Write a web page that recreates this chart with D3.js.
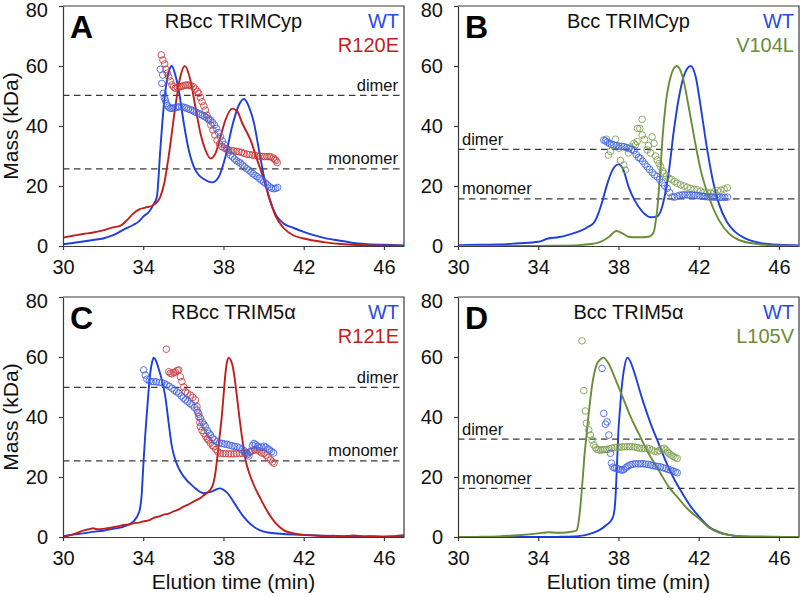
<!DOCTYPE html>
<html><head><meta charset="utf-8">
<script src="https://cdn.jsdelivr.net/npm/d3@7"></script>
<style>
html,body{margin:0;padding:0;background:#fff;}
text{font-family:"Liberation Sans",Arial,Helvetica,sans-serif;}
</style></head>
<body><svg id="chart" width="800" height="597"></svg>
<script>
// ---------- tick labels ----------
const xTicks = [30, 34, 38, 42, 46];
const yTicks = [0, 20, 40, 60, 80];
const xDomain = [30, 47];
const yDomain = [0, 80];

// ---------- panel titles / series names ----------
const panelLetters = ["A", "B", "C", "D"];
const panelTitles = ["RBcc TRIMCyp", "Bcc TRIMCyp", "RBcc TRIM5\u03b1", "Bcc TRIM5\u03b1"];
const seriesNames = [["WT", "R120E"], ["WT", "V104L"], ["WT", "R121E"], ["WT", "L105V"]];
const dimerMass = [50.2, 32.2, 49.9, 32.6];
const monomerMass = [25.7, 15.7, 25.4, 16.2];

// ---------- Panel A: RBcc TRIMCyp ----------
const aLineWT = [[30,0.6],[30.5,1.0],[31,1.5],[31.5,2.0],[32,2.5],[32.5,3.6],[33,5.4],[33.5,7.0],[33.8,8.3],[34,9.8],[34.3,11.5],[34.5,13.7],[34.68,16.4],[34.85,32],[35.02,46.4],[35.18,55.3],[35.3,58.7],[35.43,60],[35.6,57],[35.77,52],[36.02,41],[36.27,32],[36.6,25.3],[37.1,22],[37.43,21.2],[37.77,23.1],[38.1,29.8],[38.43,39.8],[38.77,47],[39.02,49],[39.27,46.4],[39.52,41],[39.77,32],[40.02,23.1],[40.27,16.2],[40.6,10.5],[41,7.5],[41.5,6],[42,4.7],[42.5,3.6],[43,2.7],[43.5,2.1],[44,1.6],[44.5,1.0],[45,0.7],[46,0.4],[47,0.2]];
const aLineMut = [[30,2.8],[30.5,3.4],[31,4.0],[31.5,4.5],[32,5.2],[32.5,6.2],[32.85,6.7],[33.2,8.7],[33.5,10.8],[33.8,12.2],[34.1,12.8],[34.5,13.6],[34.85,16.4],[35.05,21],[35.27,30],[35.6,46.4],[35.85,56.4],[36.07,60],[36.35,55.3],[36.6,46.4],[36.85,37.6],[37.1,32],[37.35,29.2],[37.6,30.9],[37.85,36.4],[38.1,42],[38.43,45.8],[38.68,45],[38.93,41],[39.35,35.3],[39.68,28.7],[40.02,22],[40.27,16.4],[40.6,10],[41,6],[41.5,3.5],[42,2.5],[43,1.3],[44,0.6],[45,0.3],[47,0.1]];
const aDotsWT = [[34.85,58.9],[34.93,54.2],[34.97,57],[35.0,50.9],[35.05,49.5],[35.1,48.7],[35.15,47.5],[35.2,46.8],[35.27,46.3],[35.35,45.9],[35.43,45.9],[35.5,46.0],[35.6,46.1],[35.7,46.3],[35.8,46.4],[35.93,46.4],[36.05,46.2],[36.15,46.0],[36.25,45.7],[36.35,45.4],[36.45,45.2],[36.55,44.8],[36.65,44.5],[36.75,44.2],[36.85,43.9],[36.95,43.6],[37.05,43.2],[37.15,42.8],[37.25,42.4],[37.35,42],[37.45,41.2],[37.55,40.3],[37.65,39.2],[37.75,37.8],[37.85,36.4],[37.95,35],[38.05,33.8],[38.15,32.5],[38.25,31.3],[38.35,30.3],[38.45,29.7],[38.55,29],[38.65,28.4],[38.75,28],[38.85,27.6],[38.95,27],[39.05,26.4],[39.15,25.8],[39.27,25.3],[39.37,24.7],[39.47,24.1],[39.57,23.6],[39.68,23.1],[39.78,22.6],[39.88,22],[40.0,21.4],[40.1,20.9],[40.2,20.3],[40.3,19.7],[40.4,19.3],[40.5,19.1],[40.6,19.2],[40.7,19.5]];
const aDotsMut = [[34.9,63.7],[34.98,62],[35.07,60.7],[35.13,58.9],[35.2,57.6],[35.27,56.4],[35.35,55],[35.43,53.7],[35.52,53],[35.6,52.6],[35.7,52.8],[35.8,53],[35.9,53.2],[36.0,53.4],[36.1,53.6],[36.18,53.7],[36.28,53.6],[36.38,53.4],[36.5,53.1],[36.6,52.3],[36.7,51.5],[36.77,50.9],[36.85,49.5],[36.93,48.1],[37.02,46.7],[37.1,45.3],[37.18,43.6],[37.27,42],[37.37,40.3],[37.47,38.7],[37.57,37],[37.68,35.3],[37.8,34],[37.93,33.1],[38.05,32.6],[38.17,32.3],[38.27,32],[38.4,31.8],[38.52,31.7],[38.65,31.5],[38.77,31.4],[38.9,31.2],[39.03,30.9],[39.17,30.6],[39.3,30.5],[39.43,30.3],[39.56,30.2],[39.7,30.0],[39.82,29.9],[39.93,29.8],[40.05,29.8],[40.17,29.8],[40.28,29.8],[40.38,29.7],[40.48,29.3],[40.56,28.9],[40.62,28.5],[40.68,27.8]];

// ---------- Panel B: Bcc TRIMCyp ----------
const bLineWT = [[30,0.3],[31,0.4],[32,0.5],[33,0.9],[34,1.4],[34.5,2.5],[35,2.9],[35.5,3.7],[36,4.8],[36.5,6.4],[36.8,8],[37,10.9],[37.2,15],[37.4,19.8],[37.7,25.3],[38.0,27.2],[38.25,25.3],[38.5,19.8],[38.8,15.3],[39.2,11.4],[39.6,9.6],[39.9,9.8],[40.1,11.5],[40.3,16.5],[40.5,24.2],[40.75,38],[41.0,49],[41.25,56.5],[41.6,60],[41.85,56.4],[42.1,46.4],[42.4,33.1],[42.7,22],[43,14.2],[43.4,8.1],[43.8,4.8],[44.3,2.6],[45,1.1],[46,0.4],[47,0.2]];
const bLineMut = [[30,0],[33,0],[34,0.05],[35,0.1],[36,0.3],[36.5,0.6],[37,1.1],[37.5,2.9],[37.9,5],[38.2,4.2],[38.5,3.1],[39,2.9],[39.5,3.1],[39.75,4.5],[39.85,8],[39.93,12],[40.1,26.4],[40.2,36.4],[40.35,47],[40.6,56.4],[40.9,60],[41.2,56.4],[41.5,46.4],[41.8,35.3],[42.1,25.3],[42.5,16.4],[43,8.7],[43.5,4.2],[44,2],[45,0.6],[46,0.1],[47,0]];
const bDotsWT = [[37.27,35.3],[37.35,35],[37.45,34.6],[37.55,34.2],[37.65,33.9],[37.77,33.7],[37.9,33.5],[38.02,33.3],[38.15,33.2],[38.27,33.1],[38.4,32.8],[38.52,32.5],[38.65,32.2],[38.77,31.8],[38.88,30.5],[39.0,29.5],[39.1,29.2],[39.2,28.3],[39.32,27.3],[39.43,26.4],[39.55,25.5],[39.68,24.5],[39.8,23.7],[39.93,23.1],[40.05,22.2],[40.18,21.1],[40.3,20.1],[40.43,19.2],[40.55,17.8],[40.68,16.4],[40.8,16.3],[40.93,16.6],[41.05,16.9],[41.18,17.0],[41.3,17.1],[41.43,17.0],[41.55,17.0],[41.67,17.0],[41.8,16.9],[41.93,16.8],[42.05,16.7],[42.18,16.6],[42.3,16.5],[42.43,16.4],[42.55,16.4],[42.68,16.3],[42.8,16.3],[42.93,16.2],[43.05,16.2],[43.18,16.2],[43.3,16.2],[43.43,16.3]];
const bDotsMut = [[37.4,35.6],[37.5,30.3],[37.6,31.5],[37.85,35.6],[38.02,32.6],[38.1,28.5],[38.27,27],[38.35,25.3],[38.5,31],[38.6,33],[38.77,34.2],[38.85,33.7],[38.93,34.8],[38.95,39.2],[39.07,39.2],[39.18,42.2],[39.18,37],[39.3,35.5],[39.43,32],[39.5,33.5],[39.6,31],[39.68,36.4],[39.77,34.2],[39.85,30],[39.93,28.7],[40.02,27.5],[40.1,26.4],[40.2,25],[40.27,24.2],[40.4,23.3],[40.52,22.6],[40.65,22.2],[40.8,21.5],[40.93,20.9],[41.1,20.4],[41.27,20],[41.43,19.6],[41.6,19.2],[41.77,18.9],[41.93,18.7],[42.1,18.3],[42.27,17.9],[42.43,17.8],[42.6,17.6],[42.77,18.0],[42.93,18.4],[43.1,18.6],[43.27,19.0],[43.43,19.4]];

// ---------- Panel C: RBcc TRIM5a ----------
const cLineWT = [[30,0.3],[30.5,0.8],[31,1.2],[31.5,1.7],[32,2.1],[32.5,2.7],[33,3.4],[33.5,5.1],[33.8,8.4],[33.92,14],[34.02,25.7],[34.1,34],[34.18,41.2],[34.27,49],[34.35,54.6],[34.45,58.5],[34.52,59.8],[34.62,59],[34.75,56.5],[34.93,52.3],[35.1,46.8],[35.27,37.9],[35.43,30.1],[35.6,25.7],[35.8,22.5],[36,20.3],[36.5,16.8],[37,14.6],[37.4,15.1],[37.8,16.2],[38.2,14.6],[38.6,10.7],[39,6.8],[39.4,4],[39.8,2.3],[40.3,1.4],[41,1],[42,0.7],[44,0.3],[47,0.1]];
const cLineMut = [[30,0],[30.2,0.3],[30.5,0.9],[30.8,1.6],[31,2.1],[31.3,2.6],[31.5,2.9],[31.7,2.6],[32,2.7],[32.3,3.0],[32.5,3.3],[32.8,3.6],[33,4.0],[33.3,4.2],[33.5,4.6],[33.8,4.8],[34,5.2],[34.3,5.6],[34.5,6.3],[34.8,6.9],[35,7.4],[35.3,7.9],[35.5,8.5],[35.8,9.3],[36,10.1],[36.3,11],[36.5,11.8],[36.8,12.8],[37,13.8],[37.2,14.8],[37.35,15.8],[37.5,18],[37.6,21.5],[37.68,25.7],[37.8,33],[37.93,41.2],[38.02,48.5],[38.1,54.6],[38.18,58.5],[38.27,59.8],[38.37,58.8],[38.45,57.2],[38.52,54.6],[38.65,48],[38.77,41.2],[38.93,33],[39.1,25.7],[39.3,21],[39.5,17.5],[39.8,13.4],[40.2,8.4],[40.6,4.6],[41,2.3],[41.5,1.2],[42,0.7],[42.5,0.5],[43,0.3],[43.5,0.4],[44,0.2],[44.5,0.5],[45,0.2],[45.5,0.3],[46,0.1],[46.5,0.3],[47,0.6]];
const cDotsWT = [[34.02,55.7],[34.1,54],[34.18,52.6],[34.3,52],[34.4,51.8],[34.52,51.8],[34.65,51.7],[34.8,51.5],[34.93,51.4],[35.05,51.1],[35.18,50.7],[35.3,50.2],[35.43,49.6],[35.55,48.9],[35.67,48.4],[35.77,47.9],[35.9,47],[36.0,46.3],[36.1,45.7],[36.22,45.1],[36.33,44.5],[36.43,44],[36.55,43.2],[36.68,42.3],[36.77,41],[36.85,39.6],[36.95,38.3],[37.02,37.5],[37.1,36.8],[37.2,35.4],[37.28,34.6],[37.35,34],[37.45,33],[37.55,32.4],[37.68,31.8],[37.8,31.4],[37.93,31.2],[38.05,31],[38.18,30.9],[38.3,30.6],[38.43,30.4],[38.55,30.2],[38.68,30.1],[38.8,29.7],[38.92,29.2],[39.02,28.8],[39.12,28],[39.2,27.5],[39.27,27],[39.35,28.5],[39.45,30.5],[39.52,31.2],[39.6,30.8],[39.7,30.2],[39.8,29.7],[39.9,30],[40.02,30.3],[40.12,29.9],[40.22,29.3],[40.3,29],[40.4,28.5],[40.5,28]];
const cDotsMut = [[35.15,62.6],[35.27,55.1],[35.35,54.6],[35.43,54.4],[35.52,54.8],[35.6,55],[35.7,55.5],[35.77,55.7],[35.85,53.4],[35.93,51.8],[36.02,50],[36.1,48.4],[36.2,47.9],[36.35,47.3],[36.47,46.5],[36.6,45.7],[36.68,43.5],[36.72,41.5],[36.77,40.1],[36.82,38.2],[36.85,36.8],[36.93,35.5],[37.02,34.6],[37.12,33.5],[37.2,32.6],[37.27,32.3],[37.35,31.3],[37.45,30.5],[37.52,30.1],[37.62,29.2],[37.72,28.4],[37.85,27.9],[37.98,27.8],[38.1,27.8],[38.25,27.7],[38.38,27.7],[38.52,27.7],[38.65,27.8],[38.8,27.8],[38.93,27.9],[39.05,28],[39.18,27.9],[39.3,28.3],[39.43,28.7],[39.55,29],[39.68,29],[39.8,28.6],[39.9,28],[40.02,27.9],[40.12,27.3],[40.22,26.5],[40.35,25.7],[40.45,25],[40.52,24.6]];

// ---------- Panel D: Bcc TRIM5a ----------
const dLineWT = [[30,0],[34,0],[35,0.05],[35.5,0.1],[36,0.3],[36.5,0.9],[37,2.1],[37.4,4],[37.7,6.2],[37.8,9],[37.85,13],[37.9,20.1],[37.95,28],[38,35.7],[38.08,43],[38.15,49],[38.3,56.8],[38.45,59.8],[38.6,58.4],[38.8,54.6],[39.2,45.7],[39.6,37.9],[40,31.2],[40.4,24.6],[40.8,19],[41.2,14.4],[41.6,10.2],[42,6.9],[42.5,3.4],[43,1.7],[43.5,0.7],[44,0.3],[45,0.1],[47,0]];
const dLineMut = [[30,0],[31,0.05],[32,0.2],[33,0.6],[34,1.2],[34.5,1.6],[35,1.4],[35.5,1.6],[35.9,2.1],[36.0,4.5],[36.1,10.1],[36.2,18],[36.3,26.8],[36.4,33.5],[36.5,40.1],[36.7,51.2],[36.9,57.3],[37.1,59.2],[37.25,59.8],[37.5,57.9],[37.8,53.4],[38.2,46.8],[38.6,40.1],[39,34.6],[39.5,27.9],[40,22.3],[40.5,16.8],[41,12.8],[41.5,9],[42,6.2],[42.5,3.2],[43,1.5],[43.5,0.7],[44,0.3],[45,0.1],[47,0]];
const dDotsWT = [[37.18,56.2],[37.27,41.2],[37.35,37.6],[37.43,38.4],[37.52,34],[37.6,27.9],[37.65,24.6],[37.72,23.3],[37.8,23],[37.9,22.9],[38.0,22.7],[38.1,22.4],[38.18,22.3],[38.27,22.5],[38.35,23],[38.43,23.4],[38.52,23.8],[38.62,24.1],[38.72,24.3],[38.85,24.4],[38.98,24.4],[39.1,24.4],[39.22,24.4],[39.35,24.3],[39.48,24.2],[39.6,24],[39.72,23.8],[39.85,23.6],[39.97,23.5],[40.1,23.4],[40.22,23.1],[40.35,22.8],[40.48,22.5],[40.6,22.3],[40.72,22],[40.83,21.7],[40.93,21.4]];
const dDotsMut = [[36.18,65.4],[36.27,48.8],[36.35,42],[36.4,37.9],[36.52,35.7],[36.6,34],[36.68,32.3],[36.77,30.7],[36.85,29.8],[36.93,29.2],[37.02,29],[37.12,29],[37.22,29.1],[37.32,29.2],[37.43,29.2],[37.55,29.4],[37.67,29.6],[37.8,29.8],[37.93,29.9],[38.05,29.9],[38.17,30],[38.3,30.1],[38.43,30.1],[38.55,30.1],[38.67,30.1],[38.8,30],[38.93,29.8],[39.05,29.6],[39.17,29.5],[39.3,29.5],[39.43,29.6],[39.55,29.4],[39.67,29],[39.8,28.6],[39.93,28.4],[40.03,28.8],[40.15,29.4],[40.27,29.6],[40.37,29],[40.45,28.3],[40.52,27.9],[40.62,27.3],[40.72,26.9],[40.82,26.5],[40.93,26.2]];

// ---------- styling ----------
const COL = {
  blue: "#1f3fd8", blueDot: "#3e60e2",
  red: "#c01f1c", redDot: "#c83a38",
  green: "#6b8c38", greenDot: "#7d9c4c",
  axis: "#3a3a3a"
};
const panels = [
  {left: 63, top: 6, lines: [aLineWT, aLineMut], dots: [aDotsWT, aDotsMut], mut: "red", dimerLeft: false, yTitle: true, xTitle: false},
  {left: 458, top: 6, lines: [bLineWT, bLineMut], dots: [bDotsWT, bDotsMut], mut: "green", dimerLeft: true, yTitle: false, xTitle: false},
  {left: 63, top: 297, lines: [cLineWT, cLineMut], dots: [cDotsWT, cDotsMut], mut: "red", dimerLeft: false, yTitle: true, xTitle: true},
  {left: 458, top: 297, lines: [dLineWT, dLineMut], dots: [dDotsWT, dDotsMut], mut: "green", dimerLeft: true, yTitle: false, xTitle: true}
];
const W = 341, H = 240;

const svg = d3.select("#chart");
svg.append("rect").attr("width", 800).attr("height", 597).attr("fill", "#fff");

panels.forEach((p, i) => {
  const g = svg.append("g").attr("transform", `translate(${p.left},${p.top})`);
  const x = d3.scaleLinear().domain(xDomain).range([0, W]);
  const y = d3.scaleLinear().domain(yDomain).range([H, 0]);
  const mutLine = p.mut === "red" ? COL.red : COL.green;
  const mutDot = p.mut === "red" ? COL.redDot : COL.greenDot;

  // frame (top + right)
  g.append("path").attr("d", `M0,0H${W}V${H}`).attr("fill", "none")
    .attr("stroke", COL.axis).attr("stroke-width", 1.2);

  // reference lines
  [dimerMass[i], monomerMass[i]].forEach((m, k) => {
    g.append("line").attr("x1", 0).attr("x2", W).attr("y1", y(m)).attr("y2", y(m))
      .attr("stroke", "#3a3a3a").attr("stroke-width", 1.3).attr("stroke-dasharray", "6.5,4.5");
    const lbl = k === 0 ? "dimer" : "monomer";
    g.append("text").text(lbl)
      .attr("x", p.dimerLeft ? 4 : W - 6)
      .attr("y", y(m) - 4.5)
      .attr("text-anchor", p.dimerLeft ? "start" : "end")
      .attr("font-size", 16.5).attr("fill", "#111");
  });

  const line = d3.line().x(d => x(d[0])).y(d => y(d[1])).curve(d3.curveMonotoneX);
  // traces
  g.append("path").datum(p.lines[0]).attr("d", line).attr("fill", "none")
    .attr("stroke", COL.blue).attr("stroke-width", 1.9);
  g.append("path").datum(p.lines[1]).attr("d", line).attr("fill", "none")
    .attr("stroke", mutLine).attr("stroke-width", 1.9);

  // mass points
  const drawDots = (data, col) => g.append("g").selectAll("circle").data(data).join("circle")
    .attr("cx", d => x(d[0])).attr("cy", d => y(d[1])).attr("r", 3.3)
    .attr("fill", "none").attr("stroke", col).attr("stroke-width", 1).attr("stroke-opacity", 0.85);
  drawDots(p.dots[1], mutDot);
  drawDots(p.dots[0], COL.blueDot);

  // axes
  const xa = g.append("g").attr("transform", `translate(0,${H})`)
    .call(d3.axisBottom(x).tickValues(xTicks).tickSize(4).tickPadding(10).tickSizeOuter(0));
  const ya = g.append("g")
    .call(d3.axisLeft(y).tickValues(yTicks).tickSize(4).tickPadding(11).tickSizeOuter(0));
  [xa, ya].forEach(a => {
    a.select(".domain").attr("stroke", COL.axis).attr("stroke-width", 1.2);
    a.selectAll(".tick line").attr("stroke", COL.axis).attr("stroke-width", 1.2);
    a.selectAll(".tick text").attr("font-size", 20).attr("fill", "#111")
      .attr("font-family", '"Liberation Sans", Arial, sans-serif');
  });
  // keep the top "80" label inside the picture
  ya.selectAll(".tick text").filter(d => d === 80).attr("dy", "0.5em");

  // labels
  g.append("text").text(panelLetters[i]).attr("x", 7).attr("y", 32)
    .attr("font-size", 32).attr("font-weight", "bold").attr("fill", "#000");
  g.append("text").text(panelTitles[i]).attr("x", W / 2).attr("y", 21.5)
    .attr("text-anchor", "middle").attr("font-size", 20).attr("fill", "#111");
  g.append("text").text(seriesNames[i][0]).attr("x", W - 5).attr("y", 21.5)
    .attr("text-anchor", "end").attr("font-size", 20).attr("fill", "#2a4be0");
  g.append("text").text(seriesNames[i][1]).attr("x", W - 5).attr("y", 46)
    .attr("text-anchor", "end").attr("font-size", 20).attr("fill", mutLine);

  if (p.yTitle) {
    g.append("text").text("Mass (kDa)")
      .attr("transform", `translate(${18 - p.left},${H / 2}) rotate(-90)`)
      .attr("text-anchor", "middle").attr("font-size", 21).attr("fill", "#111");
  }
  if (p.xTitle) {
    g.append("text").text("Elution time (min)").attr("x", W / 2).attr("y", H + 52)
      .attr("text-anchor", "middle").attr("font-size", 21).attr("fill", "#111");
  }
});
</script></body></html>
